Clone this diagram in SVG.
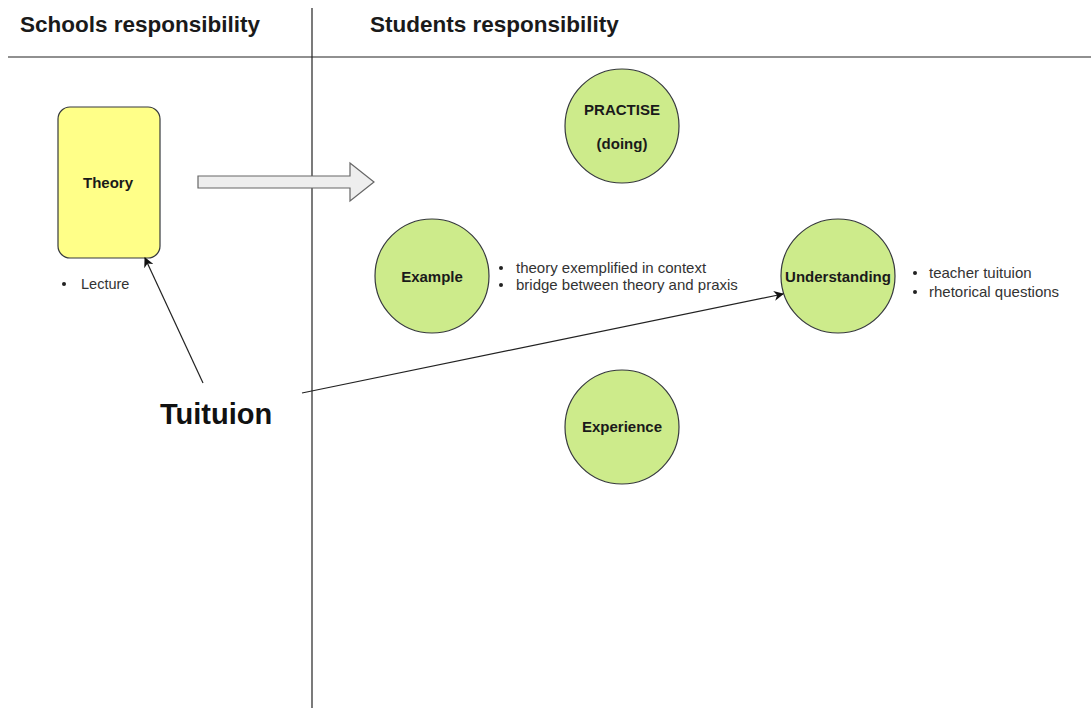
<svg xmlns="http://www.w3.org/2000/svg" width="1091" height="708" viewBox="0 0 1091 708">
<style>
text{font-family:"Liberation Sans",Arial,sans-serif;fill:#1a1a1a}
.h{font-size:22.5px;font-weight:bold}
.n{font-size:15px;font-weight:bold;text-anchor:middle}
.b{font-size:15px;fill:#333}
.c{fill:#cdeb8b;stroke:#36393d;stroke-width:1.2}
.ln{stroke:#222;stroke-width:1.2;fill:none}
</style>
<defs>
<marker id="ah" viewBox="0 0 10 10" refX="9" refY="5" markerWidth="10" markerHeight="10" markerUnits="userSpaceOnUse" orient="auto">
<path d="M0,0 L10,5 L0,10 L3,5 Z" fill="#111"/>
</marker>
</defs>
<rect width="1091" height="708" fill="#fff"/>
<g id="frame">
<line x1="312" y1="8" x2="312" y2="708" class="ln"/>
<line x1="8" y1="57" x2="1091" y2="57" class="ln"/>
<text x="20" y="32" class="h">Schools responsibility</text>
<text x="370" y="32" class="h">Students responsibility</text>
</g>
<g id="theory">
<rect x="58" y="107" width="102" height="151" rx="12" fill="#ffff88" stroke="#36393d" stroke-width="1.2"/>
<text x="108" y="188" class="n">Theory</text>
<circle cx="64" cy="284" r="2" fill="#222"/>
<text x="81" y="289" class="b" style="font-size:14.5px">Lecture</text>
</g>
<g id="bigarrow">
<path d="M198,176 L350,176 L350,163 L374,182 L350,201 L350,188 L198,188 Z" fill="#eeeeee" stroke="#666" stroke-width="1.2"/>
</g>
<g id="practise">
<circle cx="622" cy="126" r="57" class="c"/>
<text x="622" y="115" class="n">PRACTISE</text>
<text x="622" y="149" class="n">(doing)</text>
</g>
<g id="example">
<circle cx="432" cy="276" r="57" class="c"/>
<text x="432" y="282" class="n">Example</text>
<circle cx="501" cy="268" r="2" fill="#222"/>
<circle cx="501" cy="285" r="2" fill="#222"/>
<text x="516" y="273" class="b">theory exemplified in context</text>
<text x="516" y="290" class="b">bridge between theory and praxis</text>
</g>
<g id="understanding">
<circle cx="838" cy="276" r="57" class="c"/>
<text x="838" y="282" class="n">Understanding</text>
<circle cx="915" cy="273" r="2" fill="#222"/>
<circle cx="915" cy="292" r="2" fill="#222"/>
<text x="929" y="278" class="b">teacher tuituion</text>
<text x="929" y="297" class="b">rhetorical questions</text>
</g>
<g id="experience">
<circle cx="622" cy="427" r="57" class="c"/>
<text x="622" y="432" class="n">Experience</text>
</g>
<g id="tuituion">
<text x="160" y="424" style="font-size:29px;font-weight:bold;fill:#111">Tuituion</text>
</g>
<g id="connectors">
<line x1="203" y1="383" x2="145" y2="258" class="ln" marker-end="url(#ah)"/>
<line x1="302" y1="393" x2="783" y2="294" class="ln" marker-end="url(#ah)"/>
</g>
</svg>
